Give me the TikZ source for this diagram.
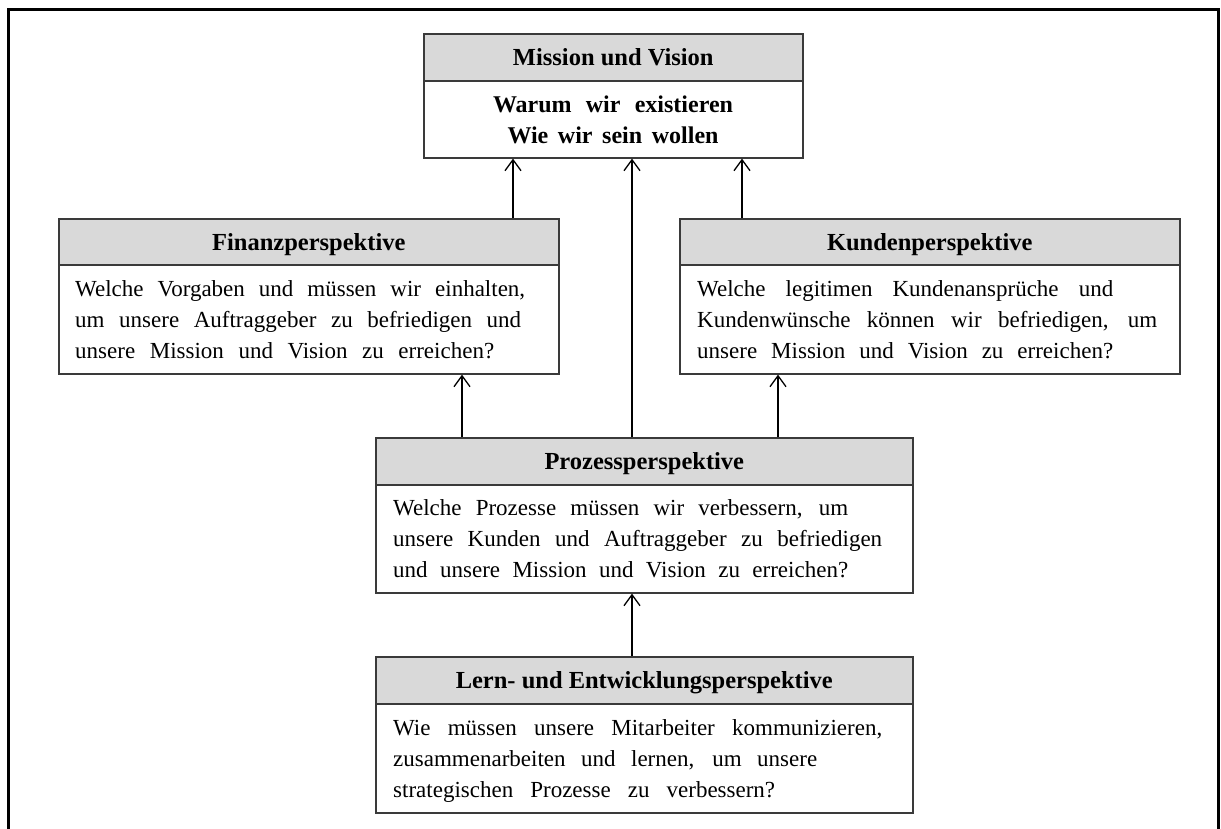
\documentclass[tikz,border=0pt]{standalone}
\usepackage{fontspec}
\setmainfont{Liberation Serif}
\usetikzlibrary{arrows.meta}
\definecolor{headgray}{HTML}{D9D9D9}
\definecolor{edgegray}{HTML}{3A3A3A}
\begin{document}
\begin{tikzpicture}[x=1pt,y=-1pt,
  headbox/.style={draw=edgegray, line width=1.6pt, fill=headgray, anchor=north west,
    inner sep=0pt, minimum height=47pt, text height=19pt, text depth=2pt,
    font=\fontsize{24.5}{28}\selectfont\bfseries},
  bodybox/.style={draw=edgegray, line width=1.6pt, fill=white, anchor=north west, inner sep=0pt},
  bodyline/.style={anchor=base west, inner sep=0pt, font=\fontsize{23}{31}\selectfont},
  boldline/.style={anchor=base, inner sep=0pt, font=\fontsize{24}{31}\selectfont\bfseries},
  arr/.style={draw=black, line width=1.3pt, -{Straight Barb[length=11pt,width=16pt]}}
]
\useasboundingbox (0,0) rectangle (1221,828);

% outer frame, open at the bottom
\draw[line width=3pt] (8,840) -- (8,9) -- (1218,9) -- (1218,840);

% Mission und Vision
\node[headbox, minimum width=379pt] (mvh) at (423,33) {Mission und Vision};
\node[bodybox, minimum width=379pt, minimum height=77pt] (mvb) at (423,80) {};
\node[boldline] (mv1) at (613,112) {\makebox[240pt][s]{Warum wir existieren}};
\node[boldline] (mv2) at (613,143) {\makebox[211pt][s]{Wie wir sein wollen}};

% Finanzperspektive
\node[headbox, minimum width=500pt] (finh) at (58,218) {Finanzperspektive};
\node[bodybox, minimum width=500pt, minimum height=109pt] (finb) at (58,264) {};
\node[bodyline] (fin1) at (75,296) {\makebox[450pt][s]{Welche Vorgaben und müssen wir einhalten,}};
\node[bodyline] (fin2) at (75,327) {\makebox[446pt][s]{um unsere Auftraggeber zu befriedigen und}};
\node[bodyline] (fin3) at (75,358) {\makebox[419pt][s]{unsere Mission und Vision zu erreichen?}};

% Kundenperspektive
\node[headbox, minimum width=500pt] (kunh) at (679,218) {Kundenperspektive};
\node[bodybox, minimum width=500pt, minimum height=109pt] (kunb) at (679,264) {};
\node[bodyline] (kun1) at (697,296) {\makebox[416pt][s]{Welche legitimen Kundenansprüche und}};
\node[bodyline] (kun2) at (697,327) {\makebox[460pt][s]{Kundenwünsche können wir befriedigen, um}};
\node[bodyline] (kun3) at (697,358) {\makebox[416pt][s]{unsere Mission und Vision zu erreichen?}};

% Prozessperspektive
\node[headbox, minimum width=537pt] (proh) at (375,437) {Prozessperspektive};
\node[bodybox, minimum width=537pt, minimum height=108pt] (prob) at (375,484) {};
\node[bodyline] (pro1) at (393,515) {\makebox[455pt][s]{Welche Prozesse müssen wir verbessern, um}};
\node[bodyline] (pro2) at (393,546) {\makebox[489pt][s]{unsere Kunden und Auftraggeber zu befriedigen}};
\node[bodyline] (pro3) at (393,577) {\makebox[455pt][s]{und unsere Mission und Vision zu erreichen?}};

% Lern- und Entwicklungsperspektive
\node[headbox, minimum width=537pt] (lerh) at (375,656) {Lern- und Entwicklungsperspektive};
\node[bodybox, minimum width=537pt, minimum height=109pt] (lerb) at (375,703) {};
\node[bodyline] (ler1) at (393,735) {\makebox[489pt][s]{Wie müssen unsere Mitarbeiter kommunizieren,}};
\node[bodyline] (ler2) at (393,766) {\makebox[424pt][s]{zusammenarbeiten und lernen, um unsere}};
\node[bodyline] (ler3) at (393,797) {\makebox[382pt][s]{strategischen Prozesse zu verbessern?}};

% connectors
\draw[arr] (finh.north -| 513,0) -- (mvb.south -| 513,0);
\draw[arr] (proh.north -| 632,0) -- (mvb.south -| 632,0);
\draw[arr] (kunh.north -| 742,0) -- (mvb.south -| 742,0);
\draw[arr] (proh.north -| 462,0) -- (finb.south -| 462,0);
\draw[arr] (proh.north -| 778,0) -- (kunb.south -| 778,0);
\draw[arr] (lerh.north -| 632,0) -- (prob.south -| 632,0);
\end{tikzpicture}
\end{document}
